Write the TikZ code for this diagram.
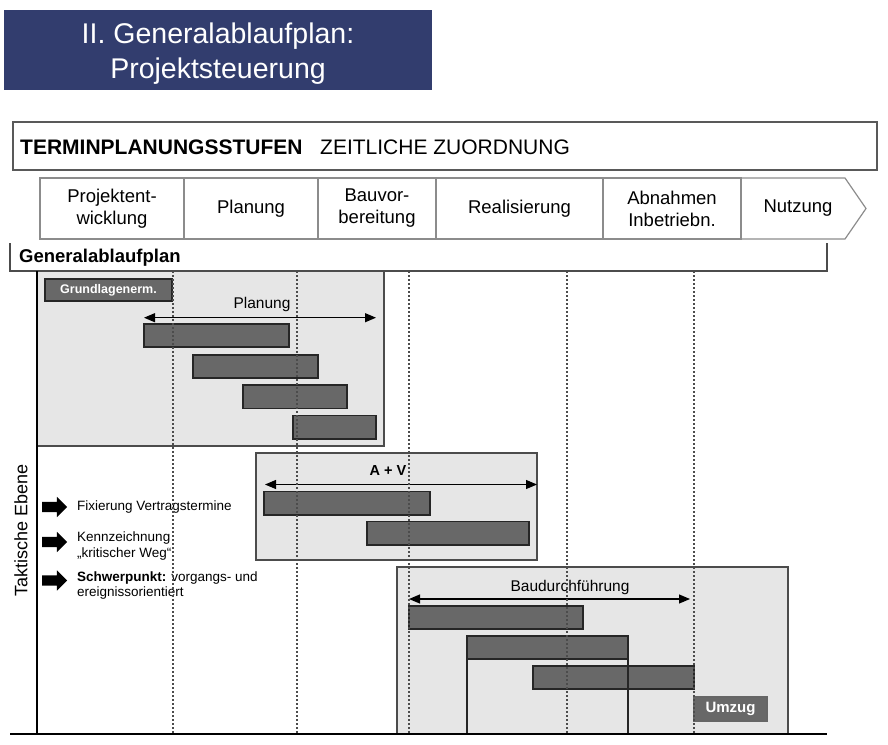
\documentclass[tikz,border=0pt]{standalone}
\usepackage{fontspec}
\setmainfont{Liberation Sans}
\usetikzlibrary{arrows.meta,shapes.arrows}
\definecolor{navy}{RGB}{50,61,110}
\definecolor{panelgray}{RGB}{230,230,230}
\definecolor{bargray}{RGB}{104,104,104}
\tikzset{
  txt/.style={inner sep=0pt, anchor=base},
  phase/.style={align=center, inner sep=0pt, font=\fontsize{18.5}{22}\selectfont},
  note/.style={inner sep=0pt, anchor=base west, font=\fontsize{13.5}{16}\selectfont},
  label/.style={txt, font=\fontsize{15.5}{18}\selectfont},
  bar/.style={fill=bargray, draw=black!85, line width=1.2pt},
  panel/.style={fill=panelgray, draw=black!70, line width=1.2pt},
  span/.style={{Triangle[length=11pt,width=9pt]}-{Triangle[length=11pt,width=9pt]}, line width=1.1pt},
  grid/.style={dash pattern=on 2pt off 2pt, line width=1.2pt, black!70},
  bigarrow/.style={single arrow, fill=black, draw=none, inner xsep=0pt, inner ysep=5pt,
    minimum height=25pt, single arrow head extend=5pt}
}
\begin{document}
\begin{tikzpicture}[x=1pt, y=-1pt]
  \useasboundingbox (0,0) rectangle (888,744);
  % title
  \fill[navy] (4,10) rectangle (432,89.5);
  \node[txt, white, font=\fontsize{28.5}{34}\selectfont] (title1) at (218,43.5) {II. Generalablaufplan:};
  \node[txt, white, font=\fontsize{28.5}{34}\selectfont] (title2) at (218,78) {Projektsteuerung};
  % header
  \draw[black!65, line width=1.2pt] (13,122) rectangle (877,170);
  \node[txt, anchor=base west, font=\fontsize{21}{25}\selectfont\bfseries] (stufen) at (20,154.3) {TERMINPLANUNGSSTUFEN};
  \node[txt, anchor=base west, font=\fontsize{21}{25}\selectfont] (zuordnung) at (320,154.3) {ZEITLICHE ZUORDNUNG};
  % phases
  \foreach \a/\b in {40/184,184/318,318/436,436/603,603/741}
    \draw[black!45, line width=1.2pt] (\a,178) rectangle (\b,239);
  \draw[black!45, line width=1.2pt] (741,178) -- (845,178) -- (866,208.5) -- (845,239) -- (741,239);
  \node[phase] (ph1) at (112,208.5) {Projektent-\\wicklung};
  \node[phase] (ph2) at (251,208.5) {Planung};
  \node[phase] (ph3) at (377,208.5) {Bauvor-\\bereitung};
  \node[phase] (ph4) at (519.5,208.5) {Realisierung};
  \node[phase] (ph5) at (672,208.5) {Abnahmen\\Inbetriebn.};
  \node[phase] (ph6) at (798,208.5) {Nutzung};
  % generalablaufplan
  \draw[black!70, line width=1.2pt] (10,243) -- (10,271) -- (827,271) -- (827,243);
  \node[txt, anchor=base west, font=\fontsize{18.5}{22}\selectfont\bfseries] (gap) at (19,262.3) {Generalablaufplan};
  % panel Planung
  \draw[panel] (37,271) rectangle (384,446);
  \draw[bar] (45,279) rectangle (172,301);
  \node[txt, anchor=center, white, font=\fontsize{12.5}{15}\selectfont\bfseries] (grundl) at (108.5,290) {Grundlagenerm.};
  \node[label] (planung) at (262,308) {Planung};
  \coordinate (pl-a) at (144,317.7);
  \coordinate (pl-b) at (376,317.7);
  \draw[span] (pl-a) -- (pl-b);
  \foreach \a/\b/\c/\d in {144/289/324/347, 193/318/355/378, 243/347/385/408.5, 293/376/415.5/439}
    \draw[bar] (\a,\c) rectangle (\b,\d);
  % panel A + V
  \draw[panel] (256,453) rectangle (537,560);
  \node[txt, font=\fontsize{14.5}{17}\selectfont\bfseries] (av) at (388,475.5) {A + V};
  \coordinate (av-a) at (265,484.5);
  \coordinate (av-b) at (537,484.5);
  \draw[span] (av-a) -- (av-b);
  \foreach \a/\b/\c/\d in {264/430/491.5/515, 367/529/521.5/545}
    \draw[bar] (\a,\c) rectangle (\b,\d);
  % panel Baudurchfuehrung
  \draw[panel] (397,567) rectangle (788,734);
  \node[label] (bau) at (570,591.5) {Baudurchführung};
  \coordinate (bd-a) at (409,599);
  \coordinate (bd-b) at (690,599);
  \draw[span] (bd-a) -- (bd-b);
  \foreach \a/\b/\c/\d in {409/583/606/629, 467/628/636/659, 533/694/666/689}
    \draw[bar] (\a,\c) rectangle (\b,\d);
  \draw[black!85, line width=1.2pt] (467,659) -- (467,734) (628,659) -- (628,734);
  \draw[bar, draw=black!60] (694,697) rectangle (767,721);
  \node[txt, anchor=center, white, font=\fontsize{15}{18}\selectfont\bfseries] (umzug) at (730.5,709) {Umzug};
  % axes
  \draw[black, line width=1.3pt] (37,271) -- (37,734);
  \draw[black, line width=1.3pt] (10,734) -- (827,734);
  % left side
  \node[txt, anchor=center, rotate=90, font=\fontsize{18}{21}\selectfont] (ebene) at (21,530) {Taktische Ebene};
  \foreach \y/\n in {507/1, 542/2, 580.5/3}
    \node[bigarrow] (arr\n) at (52,\y) {};
  \node[note] (fix) at (77,510.7) {Fixierung Vertragstermine};
  \node[note] (kenn1) at (77,541.7) {Kennzeichnung};
  \node[note] (kenn2) at (77,557.7) {„kritischer Weg“};
  \node[note] (schw1) at (77,581) {\textbf{Schwerpunkt:} vorgangs- und};
  \node[note] (schw2) at (77,596.7) {ereignissorientiert};
  % time grid
  \foreach \x in {173,297,409,567,694}
    \draw[grid] (\x,271) -- (\x,734);
\end{tikzpicture}
\end{document}
